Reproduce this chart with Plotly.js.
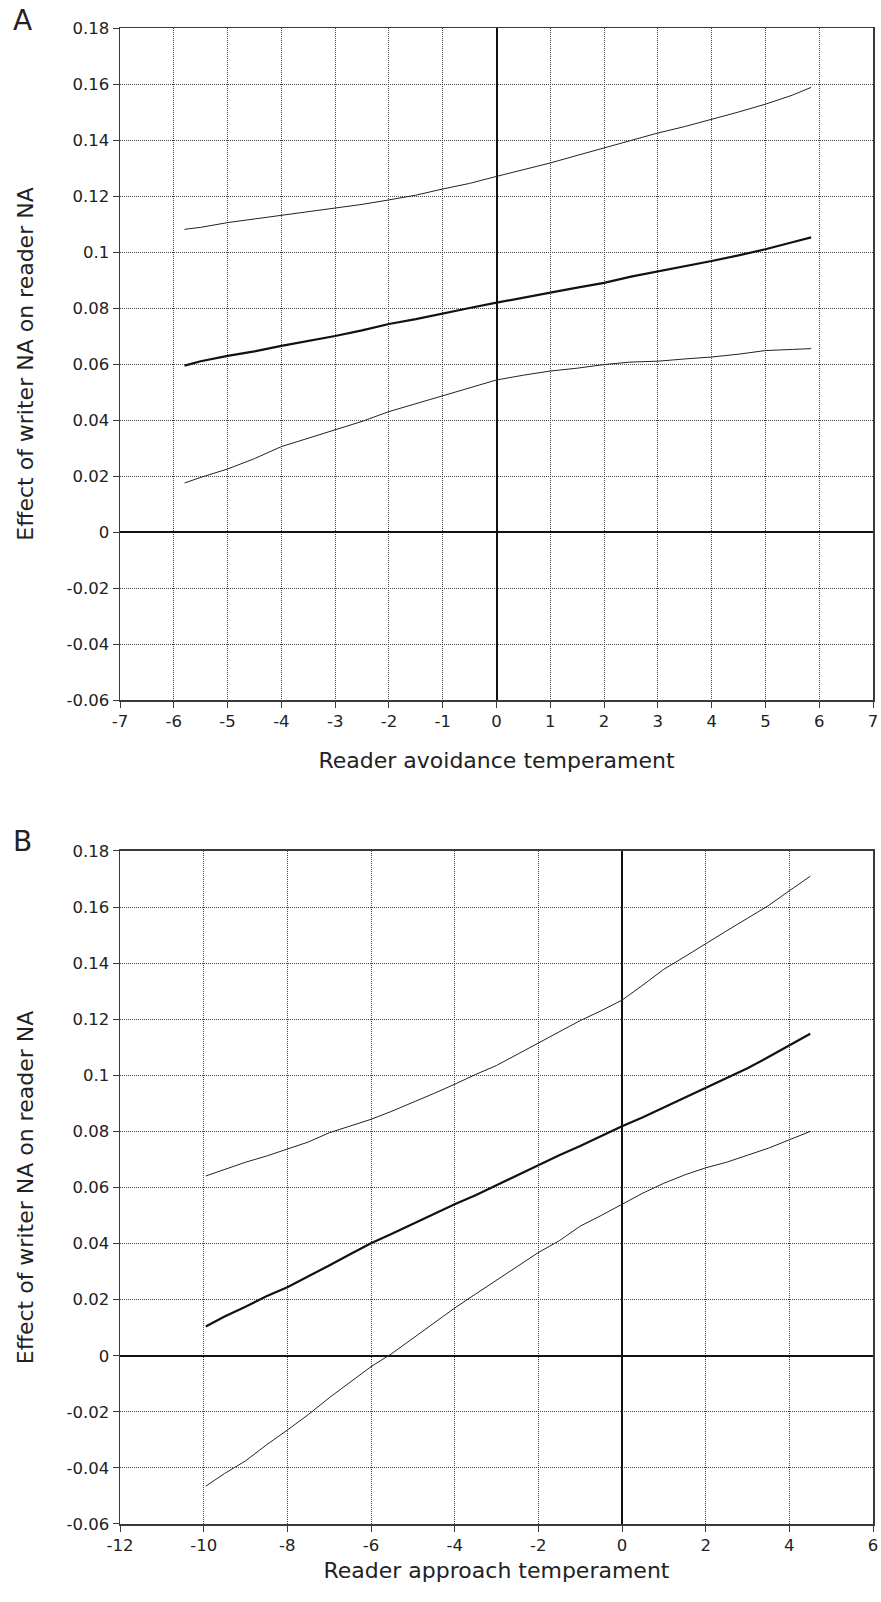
<!DOCTYPE html>
<html>
<head>
<meta charset="utf-8">
<script src="https://cdn.plot.ly/plotly-3.0.1.min.js"></script>
<style>html,body{margin:0;padding:0;background:#fff;}#chart{width:881px;height:1602px;}</style>
</head>
<body>
<div id="chart"></div>
<script>
// Panel A: reader avoidance temperament
const xA = [-5.8, -5.5, -5, -4.5, -4, -3.5, -3, -2.5, -2, -1.5, -1, -0.5, 0, 0.5, 1, 1.5, 2, 2.5, 3, 3.5, 4, 4.5, 5, 5.5, 5.85];
const upperA = [0.1081, 0.1088, 0.1105, 0.1118, 0.1129, 0.1142, 0.1156, 0.1170, 0.1186, 0.1203, 0.1225, 0.1245, 0.1270, 0.1293, 0.1318, 0.1345, 0.1372, 0.1398, 0.1425, 0.1448, 0.1473, 0.1500, 0.1528, 0.1560, 0.1588];
const effectA = [0.0594, 0.0610, 0.0629, 0.0645, 0.0665, 0.0682, 0.0700, 0.0720, 0.0743, 0.0760, 0.0781, 0.0800, 0.0819, 0.0838, 0.0855, 0.0873, 0.0890, 0.0912, 0.0930, 0.0948, 0.0968, 0.0988, 0.1010, 0.1035, 0.1052];
const lowerA = [0.0175, 0.0195, 0.0225, 0.0262, 0.0305, 0.0335, 0.0364, 0.0395, 0.0430, 0.0458, 0.0486, 0.0515, 0.0543, 0.0560, 0.0575, 0.0585, 0.0598, 0.0607, 0.0610, 0.0618, 0.0625, 0.0635, 0.0648, 0.0652, 0.0655];

// Panel B: reader approach temperament
const xB = [-9.95, -9.5, -9, -8.5, -8, -7.5, -7, -6.5, -6, -5.5, -5, -4.5, -4, -3.5, -3, -2.5, -2, -1.5, -1, -0.5, 0, 0.5, 1, 1.5, 2, 2.5, 3, 3.5, 4, 4.5];
const upperB = [0.0641, 0.0665, 0.0690, 0.0712, 0.0736, 0.0762, 0.0795, 0.0818, 0.0843, 0.0872, 0.0903, 0.0935, 0.0968, 0.1003, 0.1035, 0.1075, 0.1115, 0.1153, 0.1195, 0.1230, 0.1268, 0.1322, 0.1378, 0.1423, 0.1470, 0.1515, 0.1560, 0.1605, 0.1658, 0.1710];
const effectB = [0.0104, 0.0140, 0.0175, 0.0212, 0.0244, 0.0282, 0.0322, 0.0362, 0.0401, 0.0435, 0.0470, 0.0505, 0.0540, 0.0572, 0.0608, 0.0642, 0.0680, 0.0715, 0.0748, 0.0783, 0.0818, 0.0850, 0.0885, 0.0918, 0.0955, 0.0990, 0.1025, 0.1065, 0.1105, 0.1148];
const lowerB = [-0.0465, -0.0420, -0.0375, -0.0318, -0.0265, -0.0210, -0.0150, -0.0095, -0.0039, 0.0008, 0.0062, 0.0115, 0.0170, 0.0220, 0.0270, 0.0318, 0.0368, 0.0410, 0.0462, 0.0500, 0.0540, 0.0580, 0.0615, 0.0645, 0.0670, 0.0690, 0.0715, 0.0740, 0.0770, 0.0800];

const yTickVals = [-0.06, -0.04, -0.02, 0, 0.02, 0.04, 0.06, 0.08, 0.1, 0.12, 0.14, 0.16, 0.18];
const yTickText = ['-0.06', '-0.04', '-0.02', '0', '0.02', '0.04', '0.06', '0.08', '0.1', '0.12', '0.14', '0.16', '0.18'];
const xTickValsA = [-7, -6, -5, -4, -3, -2, -1, 0, 1, 2, 3, 4, 5, 6, 7];
const xTickValsB = [-12, -10, -8, -6, -4, -2, 0, 2, 4, 6];

const xTitleA = 'Reader avoidance temperament';
const xTitleB = 'Reader approach temperament';
const yTitle = 'Effect of writer NA on reader NA';

const FONT = 'DejaVu Sans, Liberation Sans, Arial, sans-serif';
const thin = {color: '#222', width: 1};
const thick = {color: '#111', width: 2.2};

const traces = [
  {x: xA, y: upperA, mode: 'lines', line: thin, xaxis: 'x', yaxis: 'y', name: 'Upper bound'},
  {x: xA, y: effectA, mode: 'lines', line: thick, xaxis: 'x', yaxis: 'y', name: 'Effect'},
  {x: xA, y: lowerA, mode: 'lines', line: thin, xaxis: 'x', yaxis: 'y', name: 'Lower bound'},
  {x: xB, y: upperB, mode: 'lines', line: thin, xaxis: 'x2', yaxis: 'y2', name: 'Upper bound'},
  {x: xB, y: effectB, mode: 'lines', line: thick, xaxis: 'x2', yaxis: 'y2', name: 'Effect'},
  {x: xB, y: lowerB, mode: 'lines', line: thin, xaxis: 'x2', yaxis: 'y2', name: 'Lower bound'}
];

function xAxis(range, vals, title, anchor, standoff) {
  return {
    range: range, tickmode: 'array', tickvals: vals, ticktext: vals.map(String),
    anchor: anchor, domain: [0, 1],
    showline: true, mirror: true, linecolor: '#3a3a3a', linewidth: 1.5,
    ticks: 'outside', ticklen: 6, tickcolor: '#3a3a3a', tickwidth: 1,
    showgrid: true, gridcolor: '#444', gridwidth: 1, griddash: '1px,1px',
    zeroline: true, zerolinecolor: '#111', zerolinewidth: 2,
    tickfont: {family: FONT, size: 16.5, color: '#222'},
    title: {text: title, font: {family: FONT, size: 22, color: '#222'}, standoff: standoff},
    automargin: false, fixedrange: true
  };
}
function yAxis(domain, anchor) {
  return {
    range: [-0.06, 0.18], tickmode: 'array', tickvals: yTickVals, ticktext: yTickText,
    anchor: anchor, domain: domain,
    showline: true, mirror: true, linecolor: '#3a3a3a', linewidth: 1.5,
    ticks: 'outside', ticklen: 6, tickcolor: '#3a3a3a', tickwidth: 1,
    showgrid: true, gridcolor: '#444', gridwidth: 1, griddash: '1px,1px',
    zeroline: true, zerolinecolor: '#111', zerolinewidth: 2,
    tickfont: {family: FONT, size: 16.5, color: '#222'},
    title: {text: yTitle, font: {family: FONT, size: 22, color: '#222'}, standoff: 27},
    automargin: false, fixedrange: true
  };
}

const layout = {
  width: 881, height: 1602,
  margin: {l: 120, r: 8, t: 28, b: 78, pad: 0},
  paper_bgcolor: '#fff', plot_bgcolor: '#fff',
  showlegend: false,
  font: {family: FONT, color: '#222'},
  xaxis: xAxis([-7, 7], xTickValsA, xTitleA, 'y', 22),
  yaxis: yAxis([0.5508, 1], 'x'),
  xaxis2: xAxis([-12, 6], xTickValsB, xTitleB, 'y2', 8),
  yaxis2: yAxis([0, 0.4499], 'x2'),
  annotations: [
    {text: 'A', xref: 'paper', yref: 'paper', x: -0.1295, y: 1.0053, xanchor: 'center', yanchor: 'middle', showarrow: false, font: {family: FONT, size: 28, color: '#222'}},
    {text: 'B', xref: 'paper', yref: 'paper', x: -0.1295, y: 0.4559, xanchor: 'center', yanchor: 'middle', showarrow: false, font: {family: FONT, size: 28, color: '#222'}}
  ]
};

Plotly.newPlot('chart', traces, layout, {staticPlot: true, displayModeBar: false});
</script>
</body>
</html>
